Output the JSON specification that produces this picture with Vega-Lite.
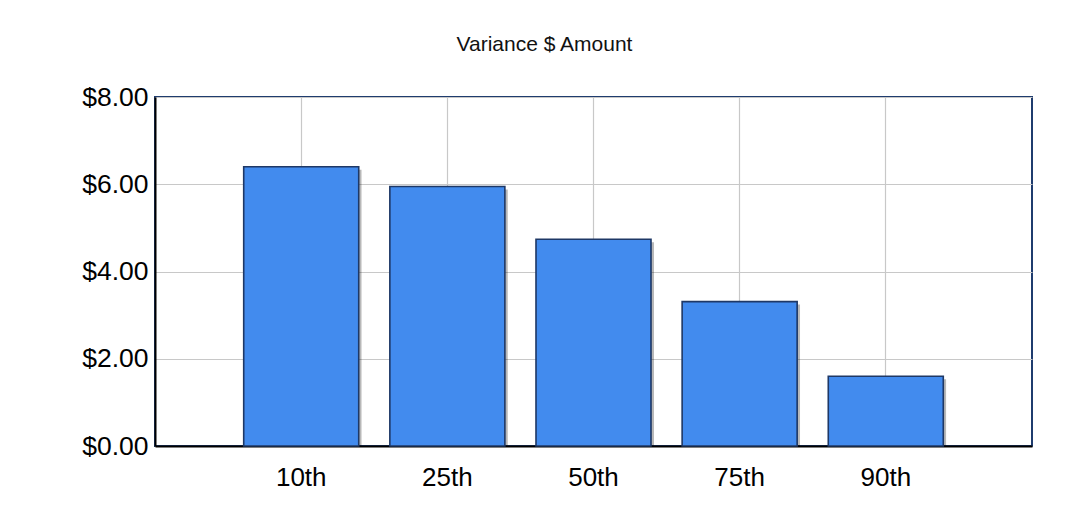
{
  "$schema": "https://vega.github.io/schema/vega-lite/v6.json",
  "width": 877,
  "height": 349,
  "autosize": {"type": "none"},
  "padding": {"left": 155, "top": 97, "right": 48, "bottom": 82},
  "background": "white",
  "title": {
    "text": "Variance $ Amount",
    "font": "Liberation Sans",
    "fontSize": 21,
    "fontWeight": "normal",
    "color": "#111111",
    "anchor": "middle",
    "frame": "group",
    "baseline": "alphabetic",
    "dx": -49,
    "offset": 12
  },
  "data": {
    "values": [
      {"percentile": "10th", "amount": 6.40},
      {"percentile": "25th", "amount": 5.95},
      {"percentile": "50th", "amount": 4.74},
      {"percentile": "75th", "amount": 3.31},
      {"percentile": "90th", "amount": 1.60}
    ]
  },
  "config": {
    "view": {"stroke": "#1F3C6E", "strokeWidth": 2},
    "axis": {
      "labelFont": "Liberation Sans",
      "labelColor": "#000000",
      "gridColor": "#C8C8C8",
      "gridWidth": 1.2,
      "gridOpacity": 1,
      "domainColor": "#000000",
      "domainWidth": 2,
      "ticks": false,
      "title": null
    }
  },
  "encoding": {
    "x": {
      "field": "percentile",
      "type": "nominal",
      "sort": null,
      "scale": {"paddingInner": 0.213, "paddingOuter": 0.607},
      "axis": {"labelAngle": 0, "labelFontSize": 26, "labelPadding": 18, "bandPosition": 0.5, "grid": true}
    },
    "y": {
      "field": "amount",
      "type": "quantitative",
      "scale": {"domain": [0, 8], "nice": false},
      "axis": {"format": "$.2f", "values": [0, 2, 4, 6, 8], "labelFontSize": 26.5, "labelPadding": 7, "grid": true}
    }
  },
  "layer": [
    {
      "mark": {"type": "bar", "xOffset": 3, "yOffset": 3, "fill": "#000000", "opacity": 0.28, "cornerRadius": 1}
    },
    {
      "mark": {"type": "bar", "fill": "#428BEE", "stroke": "#1E3866", "strokeWidth": 1.6}
    }
  ]
}
